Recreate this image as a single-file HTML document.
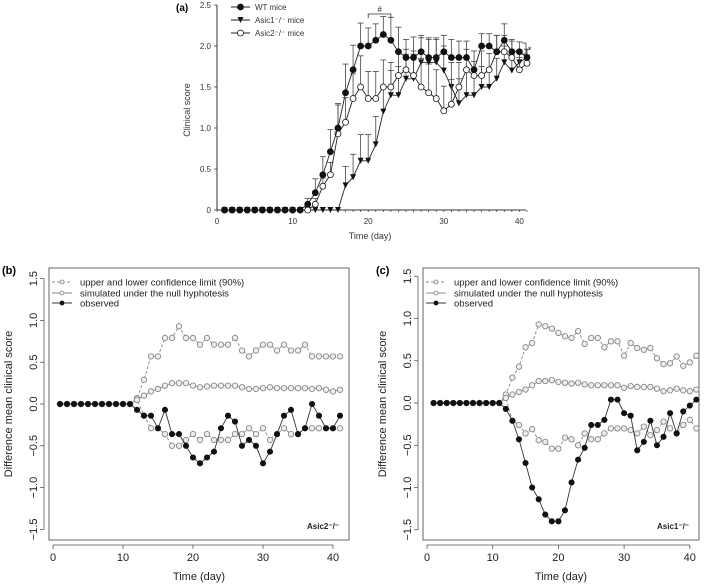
<!DOCTYPE html>
<html><head><meta charset="utf-8"><style>
body{margin:0;background:#fff;}
svg{font-family:"Liberation Sans",sans-serif;display:block;}
</style></head><body>
<svg id="fig" width="709" height="585" viewBox="0 0 709 585" xmlns="http://www.w3.org/2000/svg"></svg>
<script>
// ---------- Panel A data ----------
const daysA = Array.from({length:41},(_, i)=>i+1);
const wtScore = [0,0,0,0,0,0,0,0,0,0,0,0.07,0.21,0.43,0.71,1.0,1.43,1.71,2.0,2.0,2.07,2.14,2.07,1.93,1.86,1.86,1.93,1.86,1.86,1.93,1.86,1.86,1.86,1.71,2.0,2.0,1.93,2.07,1.93,1.93,1.86];
const asic1Score = [0,0,0,0,0,0,0,0,0,0,0,0,0,0,0,0,0.3,0.4,0.6,0.6,0.8,1.2,1.4,1.4,1.6,1.6,1.8,1.8,1.8,1.7,1.5,1.3,1.4,1.4,1.5,1.5,1.6,1.8,1.7,1.8,1.86];
const asic2Score = [0,0,0,0,0,0,0,0,0,0,0,0,0.07,0.29,0.43,0.93,1.07,1.36,1.5,1.36,1.36,1.5,1.5,1.64,1.71,1.64,1.5,1.43,1.36,1.21,1.29,1.5,1.71,1.64,1.64,1.71,1.93,1.93,1.86,1.71,1.79];
const wtErr = [0,0,0,0,0,0,0,0,0,0,0,0.07,0.17,0.22,0.27,0.3,0.35,0.3,0.28,0.22,0.2,0.22,0.28,0.3,0.22,0.25,0.2,0.22,0.22,0.2,0.22,0.2,0.2,0.1,0.15,0.15,0.2,0.2,0.15,0.12,0.1];
const asic1Err = [0,0,0,0,0,0,0,0,0,0,0,0,0,0,0,0,0.23,0.28,0.32,0.32,0.34,0.3,0.3,0.35,0.3,0.3,0.3,0.3,0.3,0.3,0.3,0.3,0.3,0.3,0.25,0.2,0.25,0.2,0.2,0.15,0.1];
const asic2Err = [0,0,0,0,0,0,0,0,0,0,0,0,0.07,0.1,0.15,0.35,0.3,0.3,0.38,0.33,0.33,0.33,0.3,0.3,0.25,0.3,0.35,0.35,0.35,0.3,0.3,0.3,0.25,0.3,0.3,0.2,0.2,0.2,0.2,0.15,0.1];
const ticksAX = [0,10,20,30,40];
const ticksAY = [0,0.5,1.0,1.5,2.0,2.5];
const ticksAYLabels = ["0","0.5","1.0","1.5","2.0","2.5"];
// ---------- Panel B data ----------
const daysB = Array.from({length:41},(_, i)=>i+1);
const bUpper = [0,0,0,0,0,0,0,0,0,0,0,0.07,0.29,0.57,0.57,0.79,0.79,0.93,0.79,0.79,0.71,0.79,0.71,0.71,0.71,0.79,0.64,0.57,0.64,0.71,0.71,0.64,0.71,0.64,0.64,0.71,0.57,0.57,0.57,0.57,0.57];
const bLower = [0,0,0,0,0,0,0,0,0,0,0,0.05,-0.14,-0.29,-0.29,-0.36,-0.5,-0.5,-0.43,-0.36,-0.43,-0.36,-0.43,-0.43,-0.43,-0.36,-0.36,-0.29,-0.36,-0.29,-0.43,-0.36,-0.29,-0.36,-0.36,-0.29,-0.29,-0.29,-0.29,-0.29,-0.29];
const bSim = [0,0,0,0,0,0,0,0,0,0,0,0.05,0.1,0.15,0.18,0.22,0.25,0.25,0.25,0.22,0.2,0.21,0.22,0.22,0.22,0.22,0.2,0.18,0.18,0.19,0.2,0.19,0.19,0.19,0.19,0.19,0.18,0.19,0.17,0.15,0.17];
const bObs = [0,0,0,0,0,0,0,0,0,0,0,-0.07,-0.14,-0.14,-0.29,-0.07,-0.36,-0.36,-0.5,-0.64,-0.71,-0.64,-0.57,-0.29,-0.14,-0.21,-0.5,-0.43,-0.5,-0.71,-0.57,-0.36,-0.14,-0.07,-0.36,-0.29,0,-0.14,-0.29,-0.29,-0.14];
// ---------- Panel C data ----------
const cUpper = [0,0,0,0,0,0,0,0,0,0,0,0.1,0.3,0.43,0.66,0.71,0.93,0.91,0.88,0.83,0.79,0.77,0.85,0.7,0.77,0.77,0.66,0.73,0.73,0.56,0.71,0.65,0.63,0.65,0.53,0.46,0.47,0.55,0.44,0.48,0.56];
const cLower = [0,0,0,0,0,0,0,0,0,0,0,0.06,-0.21,-0.26,-0.36,-0.31,-0.44,-0.46,-0.54,-0.54,-0.41,-0.43,-0.5,-0.36,-0.43,-0.43,-0.36,-0.3,-0.3,-0.3,-0.32,-0.36,-0.28,-0.38,-0.32,-0.22,-0.3,-0.36,-0.26,-0.2,-0.3];
const cSim = [0,0,0,0,0,0,0,0,0,0,0,0.06,0.1,0.13,0.16,0.21,0.26,0.26,0.27,0.25,0.24,0.23,0.24,0.22,0.21,0.21,0.21,0.21,0.21,0.18,0.2,0.19,0.19,0.19,0.17,0.14,0.15,0.17,0.15,0.14,0.16];
const cObs = [0,0,0,0,0,0,0,0,0,0,0,-0.07,-0.21,-0.43,-0.71,-1.0,-1.14,-1.32,-1.4,-1.4,-1.27,-0.94,-0.67,-0.53,-0.26,-0.26,-0.2,0.04,0.04,-0.12,-0.15,-0.56,-0.46,-0.21,-0.5,-0.4,-0.12,-0.36,-0.1,-0.03,0.04];
const ticksBX = [0,10,20,30,40];
const ticksBY = [-1.5,-1.0,-0.5,0.0,0.5,1.0,1.5];
const ticksBYLabels = ["\u22121.5","\u22121.0","\u22120.5","0.0","0.5","1.0","1.5"];

const NS="http://www.w3.org/2000/svg";
const svg=document.getElementById('fig');
function mk(tag,attrs,parent){const e=document.createElementNS(NS,tag);for(const k in attrs)e.setAttribute(k,attrs[k]);(parent||svg).appendChild(e);return e;}

// ================= PANEL A =================
const gA=mk('g',{});


const xA=d=>217+d*7.56;
const yA=v=>210-v*82;
mk('line',{x1:217,y1:5,x2:217,y2:210,stroke:'#333','stroke-width':1},gA);
mk('line',{x1:217,y1:210,x2:526,y2:210,stroke:'#333','stroke-width':1},gA);
for(let d=0;d<=41;d++){mk('line',{x1:xA(d),y1:210,x2:xA(d),y2:212,stroke:'#333','stroke-width':0.7},gA);}
ticksAX.forEach(t=>{const e=mk('text',{x:xA(t),y:224,'font-size':8,'text-anchor':'middle',fill:'#333'},gA);e.textContent=t;
 
 });
ticksAY.forEach((t,i)=>{mk('line',{x1:214,y1:yA(t),x2:217,y2:yA(t),stroke:'#333','stroke-width':0.7},gA);
 const e=mk('text',{x:211,y:yA(t)+3,'font-size':8,'text-anchor':'end',fill:'#333'},gA);e.textContent=ticksAYLabels[i];
 
 });
let tt=mk('text',{x:176,y:11,'font-size':10,'font-weight':'bold'},gA);tt.textContent='(a)';


tt=mk('text',{x:0,y:0,'font-size':9,'text-anchor':'middle',fill:'#333',transform:'translate(190,110) rotate(-90)'},gA);tt.textContent='Clinical score';


tt=mk('text',{x:370,y:239,'font-size':9,'text-anchor':'middle',fill:'#333'},gA);tt.textContent='Time (day)';


function seriesA(vals,errs,kind,name){
 const g=mk('g',{},gA);
 
 
 vals.forEach((v,i)=>{if(errs[i]>0){const x=xA(daysA[i]);mk('line',{x1:x,y1:yA(v),x2:x,y2:yA(v+errs[i]),stroke:'#444','stroke-width':0.8},g);mk('line',{x1:x-3,y1:yA(v+errs[i]),x2:x+3,y2:yA(v+errs[i]),stroke:'#444','stroke-width':0.8},g);}});
 mk('polyline',{points:vals.map((v,i)=>xA(daysA[i])+','+yA(v)).join(' '),fill:'none',stroke:'#222','stroke-width':0.9},g);
 vals.forEach((v,i)=>{const x=xA(daysA[i]),y=yA(v);
  if(kind==='tri')mk('polygon',{points:`${x-3},${y-3} ${x+3},${y-3} ${x},${y+3}`,fill:'#111'},g);
  else mk('circle',{cx:x,cy:y,r:3,fill:kind==='open'?'#fff':'#111',stroke:'#111','stroke-width':0.8},g);});
}
seriesA(asic1Score,asic1Err,'tri','series-asic1');
seriesA(asic2Score,asic2Err,'open','series-asic2');
seriesA(wtScore,wtErr,'fill','series-wt');
[['WT mice','fill',7],['Asic1','tri',20],['Asic2','open',33]].forEach(([lab,k,y],i)=>{
 const g=mk('g',{},gA);
 
 
 mk('line',{x1:231,y1:y,x2:250,y2:y,stroke:'#222','stroke-width':0.9},g);
 if(k==='tri')mk('polygon',{points:`237.5,${y-3} 243.5,${y-3} 240.5,${y+3}`,fill:'#111'},g);
 else mk('circle',{cx:240.5,cy:y,r:3,fill:k==='open'?'#fff':'#111',stroke:'#111','stroke-width':0.8},g);
 const t=mk('text',{x:255,y:y+3,'font-size':8,fill:'#333'},g);t.textContent=['WT mice','Asic1\u207B/\u207B mice','Asic2\u207B/\u207B mice'][i];
});
mk('path',{d:`M${xA(20)},18 L${xA(20)},14 L${xA(23)},14 L${xA(23)},18`,fill:'none',stroke:'#333','stroke-width':0.8},gA);
tt=mk('text',{x:xA(21.5),y:12,'font-size':8,'text-anchor':'middle',fill:'#333'},gA);tt.textContent='#';


mk('path',{d:'M522,43 L526,43 L526,54 L522,54',fill:'none',stroke:'#333','stroke-width':0.8},gA);
tt=mk('text',{x:528,y:53,'font-size':9,fill:'#333'},gA);tt.textContent='*';



// ================= PANELS B & C =================
function panel(cfg){
 const g=mk('g',{});
 
 
 const X=d=>cfg.x0+d*cfg.dx, Y=v=>cfg.y0-v*cfg.dy;
 mk('rect',{x:cfg.L,y:268,width:cfg.R-cfg.L,height:272,fill:'none',stroke:'#666','stroke-width':1},g);
 mk('line',{x1:X(0),y1:545,x2:X(40),y2:545,stroke:'#555','stroke-width':0.8},g);
 ticksBX.forEach(t=>{mk('line',{x1:X(t),y1:545,x2:X(t),y2:549,stroke:'#555','stroke-width':0.8},g);
  const e=mk('text',{x:X(t),y:561,'font-size':11,'text-anchor':'middle',fill:'#222'},g);e.textContent=t;
  
  });
 mk('line',{x1:cfg.L-5,y1:Y(-1.5),x2:cfg.L-5,y2:Y(1.5),stroke:'#555','stroke-width':0.8},g);
 ticksBY.forEach((t,i)=>{mk('line',{x1:cfg.L-9,y1:Y(t),x2:cfg.L-5,y2:Y(t),stroke:'#555','stroke-width':0.8},g);
  const e=mk('text',{x:0,y:0,'font-size':11,'text-anchor':'middle',fill:'#222',transform:`translate(${cfg.L-12},${Y(t)}) rotate(-90)`},g);e.textContent=ticksBYLabels[i];
  
  });
 let t=mk('text',{x:(cfg.L+cfg.R)/2,y:580,'font-size':11,'text-anchor':'middle',fill:'#222'},g);t.textContent='Time (day)';
 
 
 t=mk('text',{x:0,y:0,'font-size':11,'text-anchor':'middle',fill:'#222',transform:`translate(${cfg.L-37},404) rotate(-90)`},g);t.textContent='Difference mean clinical score';
 
 
 t=mk('text',{x:cfg.L-47,y:274,'font-size':11,'font-weight':'bold'},g);t.textContent=cfg.label;
 
 
 t=mk('text',{x:cfg.R-42,y:529,'font-size':8,'font-weight':'bold',fill:'#222'},g);t.textContent=cfg.tag;
 
 
 function line(vals,style,nm){
  const s=mk('g',{},g);
  
  
  const col=style==='obs'?'#111':'#888';
  mk('polyline',{points:vals.map((v,i)=>X(daysB[i])+','+Y(v)).join(' '),fill:'none',stroke:style==='obs'?'#333':'#888','stroke-width':0.9,'stroke-dasharray':style==='dash'?'3,2':'none'},s);
  vals.forEach((v,i)=>{mk('circle',{cx:X(daysB[i]),cy:Y(v),r:style==='obs'?2.6:2.7,fill:style==='obs'?'#111':'#eee',stroke:col,'stroke-width':0.9},s);});
 }
 line(cfg.upper,'dash','upper-confidence-limit');
 line(cfg.lower,'dash','lower-confidence-limit');
 line(cfg.sim,'sim','simulated-null');
 line(cfg.obs,'obs','observed');
 [['upper and lower confidence limit (90%)','dash',282],['simulated under the null hyphotesis','sim',293],['observed','obs',303]].forEach(([lab,st,y])=>{
  const lg=mk('g',{},g);
  
  
  mk('line',{x1:cfg.L+3,y1:y,x2:cfg.L+23,y2:y,stroke:st==='obs'?'#333':'#888','stroke-width':0.9,'stroke-dasharray':st==='dash'?'3,2':'none'},lg);
  mk('circle',{cx:cfg.L+13,cy:y,r:2,fill:st==='obs'?'#111':'#eee',stroke:st==='obs'?'#111':'#888','stroke-width':0.8},lg);
  const e=mk('text',{x:cfg.L+31,y:y+3.5,'font-size':9.5,fill:'#222'},lg);e.textContent=lab;
 });
}
panel({name:'panel-b',label:'(b)',tag:'Asic2\u207B/\u207B',L:49,R:349,x0:53,dx:7.0,y0:404,dy:83.6,upper:bUpper,lower:bLower,sim:bSim,obs:bObs});
panel({name:'panel-c',label:'(c)',tag:'Asic1\u207B/\u207B',L:423,R:699,x0:427,dx:6.57,y0:403,dy:84.5,upper:cUpper,lower:cLower,sim:cSim,obs:cObs});
</script>
</body></html>
